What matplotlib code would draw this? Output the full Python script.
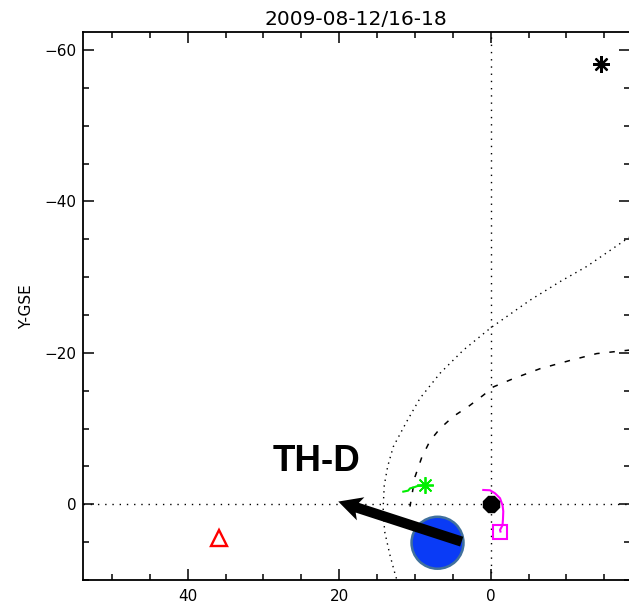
import matplotlib
matplotlib.use("Agg")
import matplotlib.pyplot as plt
from matplotlib.patches import Circle

# ---- data (GSE coordinates, Earth radii) ----
title_text = "2009-08-12/16-18"
ylabel_text = "Y-GSE"
xticks_major = [40, 20, 0]
yticks_major = [-60, -40, -20, 0]
xlim = (53.86, -18.39)
ylim = (9.76, -62.33)

# bow shock (dotted)
bow_x = [-19.6, -18.2, -12.67, -9.15, -5.19, 0.0, 3.62, 6.69, 9.33, 11.1,
         12.86, 13.6, 14.05, 14.2, 14.0, 13.3, 12.6, 11.9]
bow_y = [-36.0, -35.2, -31.4, -29.4, -26.95, -23.3, -20.35, -17.3, -14.0, -10.9,
         -7.6, -5.0, -2.5, 0.5, 3.6, 6.7, 9.3, 11.5]

# magnetopause (dashed)
mp_x = [-19.6, -18.2, -14.0, -10.5, -6.5, -3.0, -0.35, 0.98, 2.96, 4.94,
        6.69, 8.0, 9.1, 10.0, 10.65]
mp_y = [-20.5, -20.35, -19.9, -19.0, -17.9, -16.6, -15.5, -14.4, -12.9, -11.6,
        -10.0, -8.4, -6.2, -3.6, 0.3]

# green orbit track and position
green_x = [11.54, 10.9, 10.65, 10.1, 9.7, 8.67]
green_y = [-1.67, -1.8, -2.1, -2.25, -2.4, -2.55]

# magenta orbit track and position
mag_x = [0.98, 0.09, -0.57, -1.23, -1.56, -1.66, -1.62, -1.56, -1.23, -1.29]
mag_y = [-1.89, -1.85, -1.45, -0.8, 0.13, 0.92, 1.98, 2.77, 3.39, 3.6]

# other positions
earth_pos = (0.0, 0.0)
red_pos = (35.93, 4.49)
black_star_pos = (-14.56, -58.2)

# TH-D marker and arrow
thd_center = (7.02, 5.08)
thd_radius = 3.43
arrow_tail = (3.83, 4.93)
arrow_tip = (20.12, -0.36)
label_text = "TH-D"
label_pos = (23.0, -4.35)

# ---- figure ----
W, H = 629, 605
fig = plt.figure(figsize=(W / 100, H / 100), dpi=100)
left, right, top, bottom = 82.7, 630.0, 32.3, 580.0
ax = fig.add_axes([left / W, 1 - bottom / H, (right - left) / W, (bottom - top) / H])
ax.set_xlim(*xlim)
ax.set_ylim(*ylim)

for s in ax.spines.values():
    s.set_linewidth(1.3)
    s.set_color("black")

ax.set_xticks(xticks_major)
ax.set_yticks(yticks_major)
ax.set_xticks(range(50, -20, -5), minor=True)
ax.set_yticks(range(-60, 15, 5), minor=True)
ax.tick_params(which="both", direction="in", top=True, right=True,
               width=1.1, colors="black", labelsize=11)
ax.tick_params(which="major", length=8)
ax.tick_params(which="minor", length=4.3)
ax.tick_params(axis="x", pad=6.5)
ax.tick_params(axis="y", pad=4.3)

ax.set_title(title_text, fontsize=14.5, pad=5)
fig.text(27 / W, 1 - 307 / H, ylabel_text, rotation=90, ha="center",
         va="center", fontsize=11)

# reference axes through Earth
ax.axhline(0, color="black", lw=1.0, ls=(0, (1, 4.2)), zorder=1)
ax.axvline(0, color="black", lw=1.0, ls=(0, (1, 4.2)), zorder=1)

# model boundaries
ax.plot(bow_x, bow_y, color="black", lw=1.0, ls=(0, (1, 3.2)), zorder=2)
ax.plot(mp_x, mp_y, color="black", lw=1.1, ls=(0, (3.6, 6.4)), zorder=2)

# orbit tracks and markers
ax.plot(green_x, green_y, color="#00EE00", lw=1.5, zorder=3)
ax.plot(green_x[-1], green_y[-1], marker=(8, 2, 0), ms=12, mew=1.3,
        color="#00EE00", zorder=4)

ax.plot(mag_x, mag_y, color="#FF00FF", lw=1.5, zorder=3)
ax.plot(mag_x[-1], mag_y[-1], marker="s", ms=10.5, mfc="none", mec="#FF00FF",
        mew=1.5, zorder=4)

ax.plot(*earth_pos, marker="8", ms=12, color="black", zorder=5)
ax.plot(*red_pos, marker="^", ms=11, mfc="none", mec="#FF0000", mew=1.7, zorder=4)
ax.plot(*black_star_pos, marker=(8, 2, 0), ms=12, mew=1.6, color="black", zorder=4)

# TH-D annotation
ax.add_patch(Circle(thd_center, thd_radius, facecolor="#0A3BF6",
                    edgecolor="#41719C", lw=1.8, zorder=6))
ax.arrow(arrow_tail[0], arrow_tail[1],
         arrow_tip[0] - arrow_tail[0], arrow_tip[1] - arrow_tail[1],
         width=1.35, head_width=3.2, head_length=3.1, overhang=0.15,
         length_includes_head=True, color="black", lw=0, zorder=7)
ax.text(*label_pos, label_text, ha="center", va="baseline", fontsize=26.5,
        fontweight="bold", family=["Liberation Sans", "DejaVu Sans"], zorder=8)

fig.savefig("out.png", dpi=100)
